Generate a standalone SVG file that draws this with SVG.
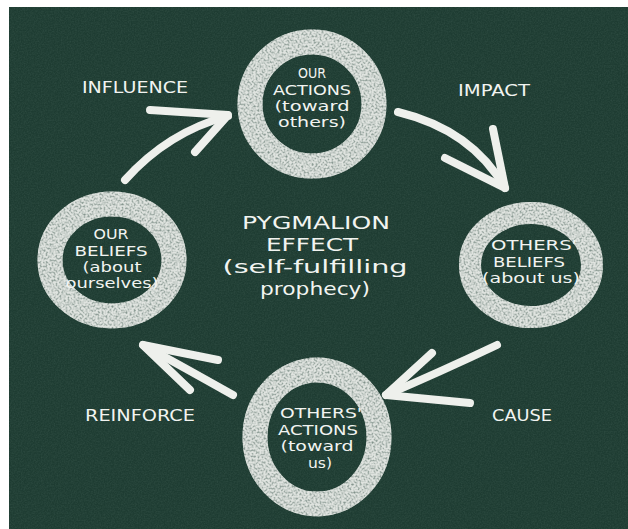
<svg xmlns="http://www.w3.org/2000/svg" width="628" height="529" viewBox="0 0 628 529">
  <style>
    .ring { fill: none; stroke: #dfe3df; }
    .t { font-family: "DejaVu Sans", "Noto Sans", sans-serif; fill: #f2f4f1; text-anchor: middle; }
    .n { font-size: 14px; }
    .title { font-size: 18px; }
    .lbl { font-size: 16px; }
    .arr { fill: none; stroke: #eef0ec; stroke-width: 8; stroke-linecap: round; stroke-linejoin: round; }
  </style>
  <defs>
    <filter id="chalk" x="-15%" y="-15%" width="130%" height="130%">
      <feTurbulence type="fractalNoise" baseFrequency="0.5" numOctaves="3" seed="7" result="noise"/>
      <feColorMatrix in="noise" type="matrix" values="0 0 0 0 0  0 0 0 0 0  0 0 0 0 0  2.4 0 0 0 -0.4" result="mask"/>
      <feComposite in="SourceGraphic" in2="mask" operator="in"/>
    </filter>
    <filter id="grain" x="0" y="0" width="100%" height="100%">
      <feTurbulence type="fractalNoise" baseFrequency="0.7" numOctaves="2" seed="2" result="n"/>
      <feColorMatrix in="n" type="matrix" values="0 0 0 0 0.2  0 0 0 0 0.32  0 0 0 0 0.27  0.5 0 0 0 -0.15"/>
    </filter>
  </defs>

  <rect x="0" y="0" width="628" height="529" fill="#ffffff"/>
  <rect x="9" y="7" width="619" height="522" fill="#1e3c32"/>
  <rect x="9" y="7" width="619" height="522" filter="url(#grain)" opacity="0.5"/>

  <g id="connectors">
    <g id="edge-influence">
      <path class="arr" d="M125,180 Q168,132 228,116"/>
      <path class="arr" d="M150,110 L228,115 L195,152"/>
      <text class="t lbl" x="135" y="93" textLength="106" lengthAdjust="spacingAndGlyphs">INFLUENCE</text>
    </g>
    <g id="edge-impact">
      <path class="arr" d="M398,112 Q472,130 505,188"/>
      <path class="arr" d="M493,129 L505,188 L445,158"/>
      <text class="t lbl" x="494" y="96" textLength="72" lengthAdjust="spacingAndGlyphs">IMPACT</text>
    </g>
    <g id="edge-cause">
      <path class="arr" d="M497,345 Q440,372 386,395"/>
      <path class="arr" d="M432,353 L386,395 L470,403"/>
      <text class="t lbl" x="522" y="421" textLength="60" lengthAdjust="spacingAndGlyphs">CAUSE</text>
    </g>
    <g id="edge-reinforce">
      <path class="arr" d="M233,395 Q185,368 143,345"/>
      <path class="arr" d="M218,360 L143,345 L190,390"/>
      <text class="t lbl" x="140" y="421" textLength="110" lengthAdjust="spacingAndGlyphs">REINFORCE</text>
    </g>
  </g>

  <g id="node-our-actions">
    <circle class="ring" cx="312" cy="104" r="62" stroke-width="25" opacity="0.5"/>
    <circle class="ring" cx="312" cy="104" r="62" stroke-width="25" filter="url(#chalk)"/>
    <text class="t n" x="312" y="78" textLength="28" lengthAdjust="spacingAndGlyphs">OUR</text>
    <text class="t n" x="312" y="95" textLength="78" lengthAdjust="spacingAndGlyphs">ACTIONS</text>
    <text class="t n" x="312" y="111" textLength="75" lengthAdjust="spacingAndGlyphs">(toward</text>
    <text class="t n" x="312" y="127" textLength="68" lengthAdjust="spacingAndGlyphs">others)</text>
  </g>

  <g id="node-others-beliefs">
    <ellipse class="ring" cx="531" cy="265" rx="61" ry="52" stroke-width="22" opacity="0.5"/>
    <ellipse class="ring" cx="531" cy="265" rx="61" ry="52" stroke-width="22" filter="url(#chalk)"/>
    <text class="t n" x="534" y="250" textLength="86" lengthAdjust="spacingAndGlyphs">OTHERS'</text>
    <text class="t n" x="529" y="267" textLength="72" lengthAdjust="spacingAndGlyphs">BELIEFS</text>
    <text class="t n" x="531" y="283" textLength="98" lengthAdjust="spacingAndGlyphs">(about us)</text>
  </g>

  <g id="node-others-actions">
    <ellipse class="ring" cx="317" cy="437" rx="62" ry="67" stroke-width="25" opacity="0.5"/>
    <ellipse class="ring" cx="317" cy="437" rx="62" ry="67" stroke-width="25" filter="url(#chalk)"/>
    <text class="t n" x="321" y="418" textLength="82" lengthAdjust="spacingAndGlyphs">OTHERS'</text>
    <text class="t n" x="318" y="435" textLength="80" lengthAdjust="spacingAndGlyphs">ACTIONS</text>
    <text class="t n" x="317" y="451" textLength="73" lengthAdjust="spacingAndGlyphs">(toward</text>
    <text class="t n" x="320" y="468" textLength="24" lengthAdjust="spacingAndGlyphs">us)</text>
  </g>

  <g id="node-our-beliefs">
    <ellipse class="ring" cx="112" cy="260" rx="62" ry="56" stroke-width="25" opacity="0.5"/>
    <ellipse class="ring" cx="112" cy="260" rx="62" ry="56" stroke-width="25" filter="url(#chalk)"/>
    <text class="t n" x="111" y="239" textLength="35" lengthAdjust="spacingAndGlyphs">OUR</text>
    <text class="t n" x="111" y="256" textLength="73" lengthAdjust="spacingAndGlyphs">BELIEFS</text>
    <text class="t n" x="112" y="272" textLength="59" lengthAdjust="spacingAndGlyphs">(about</text>
    <text class="t n" x="112" y="288" textLength="93" lengthAdjust="spacingAndGlyphs">ourselves)</text>
  </g>

  <g id="title">
    <text class="t title" x="316" y="229" textLength="148" lengthAdjust="spacingAndGlyphs">PYGMALION</text>
    <text class="t title" x="312" y="251" textLength="92" lengthAdjust="spacingAndGlyphs">EFFECT</text>
    <text class="t title" x="315" y="273" textLength="185" lengthAdjust="spacingAndGlyphs">(self-fulfilling</text>
    <text class="t title" x="315" y="295" textLength="110" lengthAdjust="spacingAndGlyphs">prophecy)</text>
  </g>
</svg>
